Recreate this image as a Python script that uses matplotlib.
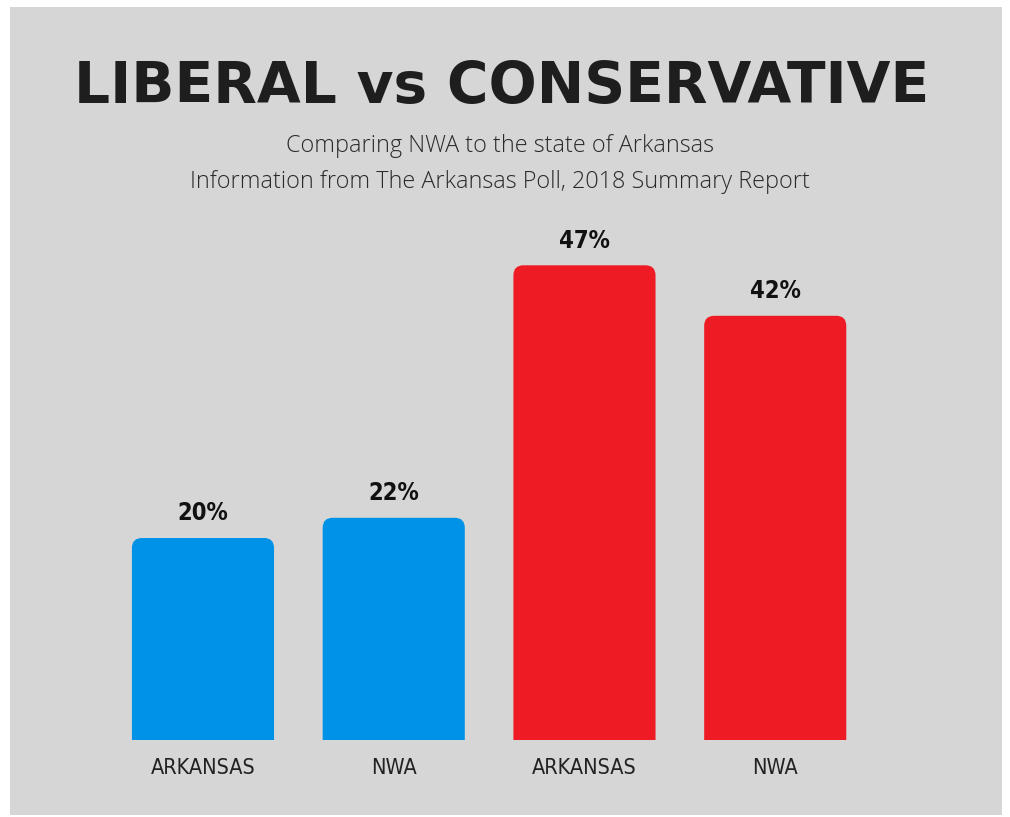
import matplotlib
matplotlib.use("Agg")
import matplotlib.pyplot as plt
from matplotlib.patches import FancyBboxPatch, Rectangle

# data
categories = ["ARKANSAS", "NWA", "ARKANSAS", "NWA"]
values = [20, 22, 47, 42]
groups = ["liberal", "liberal", "conservative", "conservative"]
colors = {"liberal": "#0092E6", "conservative": "#EE1B24"}

title = "LIBERAL vs CONSERVATIVE"
subtitle = ["Comparing NWA to the state of Arkansas",
            "Information from The Arkansas Poll, 2018 Summary Report"]

W, H = 1010, 817
fig = plt.figure(figsize=(W / 100, H / 100), dpi=100, facecolor="white")

# grey card behind everything
fig.patches.append(Rectangle((10 / W, 2 / H), 992 / W, 808 / H,
                             transform=fig.transFigure, facecolor="#D6D6D6",
                             edgecolor="none", zorder=-5))

ax = fig.add_axes([107.6 / W, 77 / H, 763 / W, 505 / H])
ax.set_facecolor("none")
ax.set_zorder(2)
ax.set_xlim(-0.5, 3.5)
ax.set_ylim(0, 50)

narrow = dict(family="DejaVu Sans", stretch="condensed")

bar_w = 0.745
px_x = 763 / 4.0      # pixels per x unit
px_y = 505 / 50.0     # pixels per y unit
r = 10 / px_x
for i, (v, g) in enumerate(zip(values, groups)):
    # rounded box starting below zero, so only the top corners show
    p = FancyBboxPatch((i - bar_w / 2, -3), bar_w, v + 3,
                       boxstyle="round,pad=0,rounding_size=%f" % r,
                       mutation_aspect=px_x / px_y,
                       facecolor=colors[g], edgecolor="none")
    ax.add_patch(p)
    ax.text(i, v + 1.75, "%d%%" % v, ha="center", va="baseline",
            fontsize=17, fontweight="bold", color="#111111", **narrow)

ax.set_xticks(range(len(categories)))
ax.set_xticklabels(categories, fontsize=15.5, color="#222222", **narrow)
ax.tick_params(axis="x", length=0, pad=13)
ax.set_yticks([])
for s in ax.spines.values():
    s.set_visible(False)

fig.text(502 / W, 1 - 87 / H, title, ha="center", va="center",
         fontsize=40.8, fontweight="bold", color="#1E1E1E",
         family=["DejaVu Sans"])
fig.text(500 / W, 1 - 146 / H, subtitle[0], ha="center", va="center",
         fontsize=16.8, fontweight="light", color="#2A2A2A",
         family=["Open Sans", "DejaVu Sans"])
fig.text(500 / W, 1 - 182 / H, subtitle[1], ha="center", va="center",
         fontsize=16.8, fontweight="light", color="#2A2A2A",
         family=["Open Sans", "DejaVu Sans"])

fig.savefig("out.png", dpi=100, facecolor="white")
